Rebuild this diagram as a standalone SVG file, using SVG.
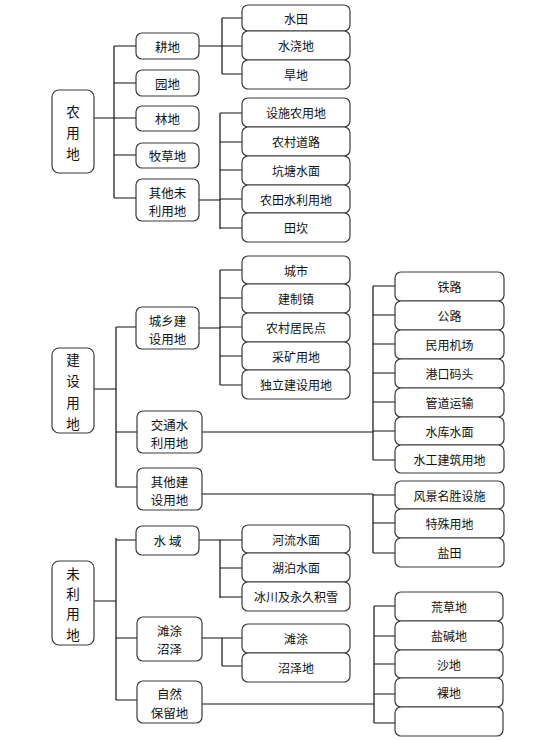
<svg xmlns="http://www.w3.org/2000/svg" width="541" height="740" viewBox="0 0 541 740">
<style>
.b{fill:#fff;stroke:#3a3a3a;stroke-width:1.2}
.ln{fill:none;stroke:#111;stroke-width:1.2}
text{font-family:"Noto Sans CJK SC","Noto Sans",sans-serif;fill:#111;text-anchor:middle;dominant-baseline:central}
.r{font-size:13.5px}
.m{font-size:12.5px}
.s{font-size:12px}
</style>
<rect width="541" height="740" fill="#fff"/>
<g id="connectors">
<path class="ln" d="M94 118H114M114 46V198M114 46H136M114 83H136M114 118H136M114 155H136M114 198H136"/>
<path class="ln" d="M199 46H222M222 18V74M222 18H242M222 46H242M222 74H242"/>
<path class="ln" d="M199 200H220M220 113V229M220 113H242M220 142H242M220 170H242M220 199H242M220 228H242"/>
<path class="ln" d="M94 389H116M116 327V487M116 327H136M116 432H137M116 487H137"/>
<path class="ln" d="M199 328H220M220 270V385M220 270H242M220 298H242M220 327H242M220 356H242M220 385H242"/>
<path class="ln" d="M202 432H373M373 286V460M373 286H395M373 315H395M373 344H395M373 373H395M373 402H395M373 431H395M373 460H395"/>
<path class="ln" d="M202 494H373M373 494V553M373 495H395M373 523H395M373 553H395"/>
<path class="ln" d="M94 601H116M116 538V700M116 540H136M116 638H137M116 700H137"/>
<path class="ln" d="M199 540H242M220 540V598M220 568H242M220 597H242"/>
<path class="ln" d="M202 638H242M222 638V666M222 666H242"/>
<path class="ln" d="M202 704H374M374 606V723M374 606H395M374 636H395M374 664H395M374 694H395M374 723H395"/>
</g>
<g id="n-nongyongdi"><rect class="b" x="52" y="90" width="42" height="83" rx="7"/><text class="r" x="73" y="111">农</text><text class="r" x="73" y="132">用</text><text class="r" x="73" y="153">地</text></g>
<g id="n-gengdi"><rect class="b" x="136" y="33" width="63" height="26" rx="6"/><text class="m" x="167.5" y="46">耕地</text></g>
<g id="n-yuandi"><rect class="b" x="136" y="70" width="63" height="26" rx="6"/><text class="m" x="167.5" y="83">园地</text></g>
<g id="n-lindi"><rect class="b" x="136" y="106" width="63" height="25" rx="6"/><text class="m" x="167.5" y="118.5">林地</text></g>
<g id="n-mucaodi"><rect class="b" x="136" y="143" width="63" height="25" rx="6"/><text class="m" x="167.5" y="155.5">牧草地</text></g>
<g id="n-qitaweiliyongdi"><rect class="b" x="136" y="179" width="63" height="42" rx="6"/><text class="m" x="167.5" y="192">其他未</text><text class="m" x="167.5" y="210">利用地</text></g>
<g id="n-shuitian"><rect class="b" x="242" y="5" width="108" height="26" rx="6"/><text class="s" x="296" y="18">水田</text></g>
<g id="n-shuijiaodi"><rect class="b" x="242" y="31" width="108" height="29" rx="6"/><text class="s" x="296" y="45.5">水浇地</text></g>
<g id="n-handi"><rect class="b" x="242" y="60" width="108" height="29" rx="6"/><text class="s" x="296" y="74.5">旱地</text></g>
<g id="n-sheshinongyongdi"><rect class="b" x="242" y="98" width="108" height="29" rx="6"/><text class="s" x="296" y="112.5">设施农用地</text></g>
<g id="n-nongcundaolu"><rect class="b" x="242" y="127" width="108" height="29" rx="6"/><text class="s" x="296" y="141.5">农村道路</text></g>
<g id="n-kengtangshuimian"><rect class="b" x="242" y="156" width="108" height="29" rx="6"/><text class="s" x="296" y="170.5">坑塘水面</text></g>
<g id="n-nongtianshuiliyongdi"><rect class="b" x="242" y="185" width="108" height="28" rx="6"/><text class="s" x="296" y="199">农田水利用地</text></g>
<g id="n-tiankan"><rect class="b" x="242" y="213" width="108" height="29" rx="6"/><text class="s" x="296" y="227.5">田坎</text></g>
<g id="n-jiansheyongdi"><rect class="b" x="52" y="348" width="42" height="85" rx="7"/><text class="r" x="73" y="359">建</text><text class="r" x="73" y="380">设</text><text class="r" x="73" y="402">用</text><text class="r" x="73" y="423">地</text></g>
<g id="n-chengxiangjianshe"><rect class="b" x="136" y="307" width="63" height="42" rx="6"/><text class="m" x="167.5" y="320">城乡建</text><text class="m" x="167.5" y="338">设用地</text></g>
<g id="n-jiaotongshuili"><rect class="b" x="137" y="411" width="65" height="42" rx="6"/><text class="m" x="169.5" y="424">交通水</text><text class="m" x="169.5" y="442">利用地</text></g>
<g id="n-qitajianshe"><rect class="b" x="137" y="468" width="65" height="42" rx="6"/><text class="m" x="169.5" y="481">其他建</text><text class="m" x="169.5" y="499">设用地</text></g>
<g id="n-chengshi"><rect class="b" x="242" y="256" width="108" height="28" rx="6"/><text class="s" x="296" y="270">城市</text></g>
<g id="n-jianzhizhen"><rect class="b" x="242" y="284" width="108" height="29" rx="6"/><text class="s" x="296" y="298.5">建制镇</text></g>
<g id="n-nongcunjumindian"><rect class="b" x="242" y="313" width="108" height="29" rx="6"/><text class="s" x="296" y="327.5">农村居民点</text></g>
<g id="n-caikuangyongdi"><rect class="b" x="242" y="342" width="108" height="28" rx="6"/><text class="s" x="296" y="356">采矿用地</text></g>
<g id="n-dulijianshe"><rect class="b" x="242" y="370" width="108" height="29" rx="6"/><text class="s" x="296" y="384.5">独立建设用地</text></g>
<g id="n-tielu"><rect class="b" x="395" y="272" width="109" height="29" rx="6"/><text class="s" x="449.5" y="286.5">铁路</text></g>
<g id="n-gonglu"><rect class="b" x="395" y="301" width="109" height="29" rx="6"/><text class="s" x="449.5" y="315.5">公路</text></g>
<g id="n-minyongjichang"><rect class="b" x="395" y="330" width="109" height="29" rx="6"/><text class="s" x="449.5" y="344.5">民用机场</text></g>
<g id="n-gangkoumatou"><rect class="b" x="395" y="359" width="109" height="29" rx="6"/><text class="s" x="449.5" y="373.5">港口码头</text></g>
<g id="n-guandaoyunshu"><rect class="b" x="395" y="388" width="109" height="29" rx="6"/><text class="s" x="449.5" y="402.5">管道运输</text></g>
<g id="n-shuikushuimian"><rect class="b" x="395" y="417" width="109" height="28" rx="6"/><text class="s" x="449.5" y="431">水库水面</text></g>
<g id="n-shuigongjianzhu"><rect class="b" x="395" y="445" width="109" height="28" rx="6"/><text class="s" x="449.5" y="459">水工建筑用地</text></g>
<g id="n-fengjingmingsheng"><rect class="b" x="395" y="481" width="109" height="28" rx="6"/><text class="s" x="449.5" y="495">风景名胜设施</text></g>
<g id="n-teshuyongdi"><rect class="b" x="395" y="509" width="109" height="29" rx="6"/><text class="s" x="449.5" y="523.5">特殊用地</text></g>
<g id="n-yantian"><rect class="b" x="395" y="538" width="109" height="29" rx="6"/><text class="s" x="449.5" y="552.5">盐田</text></g>
<g id="n-weiliyongdi"><rect class="b" x="52" y="561" width="42" height="84" rx="7"/><text class="r" x="73" y="573">未</text><text class="r" x="73" y="593">利</text><text class="r" x="73" y="613">用</text><text class="r" x="73" y="634">地</text></g>
<g id="n-shuiyu"><rect class="b" x="136" y="526" width="63" height="29" rx="6"/><text class="m" x="167.5" y="540.5" xml:space="preserve">水 域</text></g>
<g id="n-tantuzhaoze"><rect class="b" x="137" y="617" width="65" height="44" rx="6"/><text class="m" x="169.5" y="630">滩涂</text><text class="m" x="169.5" y="648">沼泽</text></g>
<g id="n-ziranbaoliudi"><rect class="b" x="137" y="681" width="65" height="42" rx="6"/><text class="m" x="169.5" y="693">自然</text><text class="m" x="169.5" y="712">保留地</text></g>
<g id="n-heliushuimian"><rect class="b" x="242" y="525" width="108" height="28" rx="6"/><text class="s" x="296" y="539">河流水面</text></g>
<g id="n-huposhuimian"><rect class="b" x="242" y="553" width="108" height="29" rx="6"/><text class="s" x="296" y="567.5">湖泊水面</text></g>
<g id="n-bingchuan"><rect class="b" x="242" y="582" width="108" height="29" rx="6"/><text class="s" x="296" y="596.5">冰川及永久积雪</text></g>
<g id="n-tantu"><rect class="b" x="242" y="624" width="108" height="29" rx="6"/><text class="s" x="296" y="638.5">滩涂</text></g>
<g id="n-zhaozedi"><rect class="b" x="242" y="653" width="108" height="29" rx="6"/><text class="s" x="296" y="667.5">沼泽地</text></g>
<g id="n-huangcaodi"><rect class="b" x="395" y="592" width="108" height="29" rx="6"/><text class="s" x="449" y="606.5">荒草地</text></g>
<g id="n-yanjiandi"><rect class="b" x="395" y="621" width="108" height="29" rx="6"/><text class="s" x="449" y="635.5">盐碱地</text></g>
<g id="n-shadi"><rect class="b" x="395" y="650" width="108" height="28" rx="6"/><text class="s" x="449" y="664">沙地</text></g>
<g id="n-luodi"><rect class="b" x="395" y="678" width="108" height="29" rx="6"/><text class="s" x="449" y="692.5">裸地</text></g>
<g id="n-blank"><rect class="b" x="395" y="707" width="108" height="29" rx="6"/></g>
</svg>
